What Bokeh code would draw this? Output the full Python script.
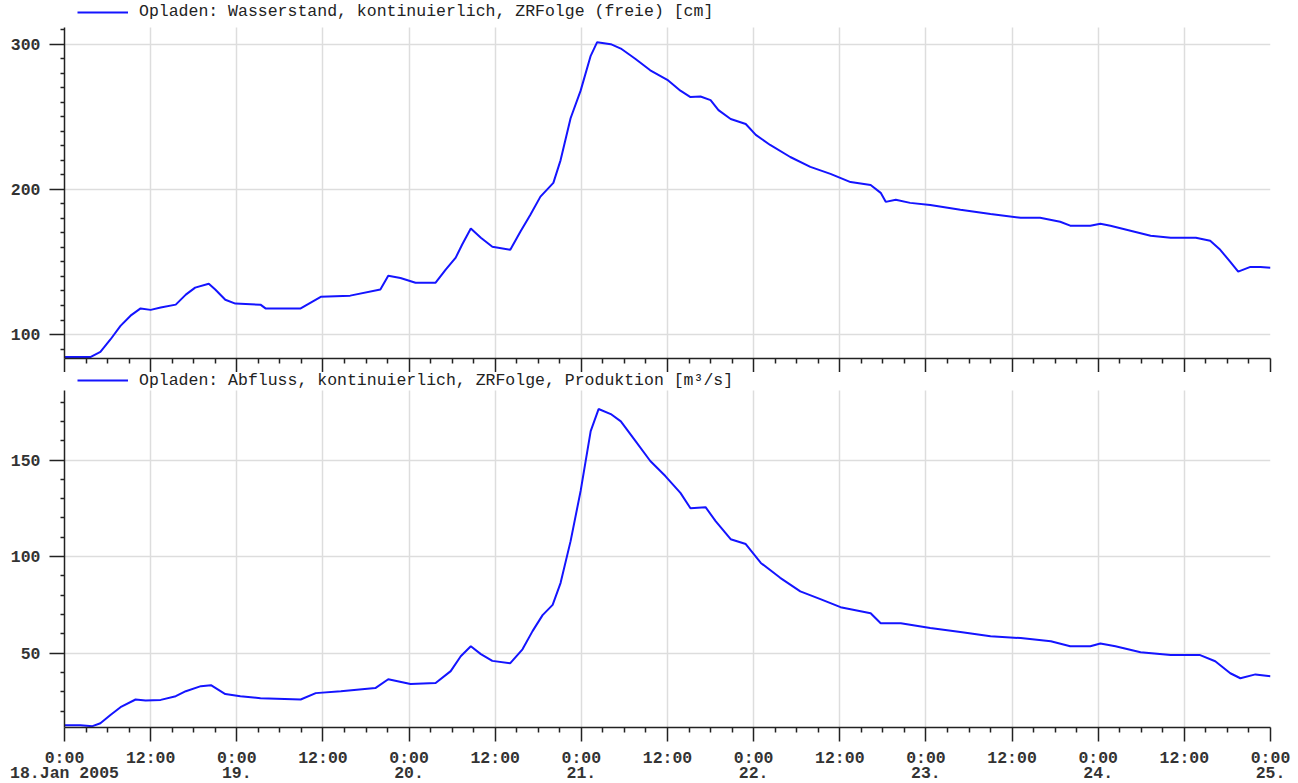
from bokeh.plotting import figure
from bokeh.models import FixedTicker, Legend, LegendItem
from bokeh.layouts import column
from bokeh.embed import file_html
from bokeh.resources import INLINE

# ---- data (hours since 18 Jan 2005 0:00) ----
level_hours = [0, 3.6, 5.0, 6.4, 7.8, 9.2, 10.6, 12.0, 13.4, 15.5, 16.9, 18.2, 20.1, 21.0, 22.4,
               23.8, 27.3, 28.0, 32.9, 34.3, 35.7, 39.8, 44.0, 45.1, 46.8, 48.9, 51.7, 53.1,
               54.5, 55.4, 56.6, 58.0, 59.6, 62.1, 63.5, 64.9, 66.3, 68.1, 69.1, 70.5, 71.9,
               73.3, 74.2, 76.1, 77.5, 79.5, 81.6, 84.1, 85.8, 87.2, 88.6, 90.0, 91.1, 92.8,
               94.9, 96.3, 98.3, 101.1, 103.9, 106.7, 109.5, 112.3, 113.7, 114.4, 115.8, 117.8,
               120.6, 124.8, 129.0, 133.2, 135.9, 138.7, 140.1, 142.9, 144.3, 145.7, 148.5,
               151.3, 154.1, 157.6, 159.6, 161.0, 162.4, 163.5, 165.2, 166.6, 168.0]
level_cm = [84.5, 84.5, 88, 96.6, 106, 113, 118, 117, 118.6, 120.6, 127.5, 132.3, 135, 131, 124,
            121.3, 120.6, 118, 118, 122, 126, 126.8, 131, 140.5, 139, 135.7, 135.7, 144.7,
            153, 162, 173, 166.7, 160.5, 158.4, 170.8, 182.5, 195, 204.5, 220, 249, 268,
            292, 301.4, 300, 297, 290, 282, 275, 268, 263.6, 264, 261.5, 254.6, 248.5,
            245, 237.5, 230.6, 222.3, 215.5, 210.7, 205, 203, 197.6, 191.4, 192.8, 190.7,
            189.3, 186, 183, 180.4, 180.4, 177.7, 175, 175, 176.3, 175, 171.5,
            168, 166.7, 166.7, 164.6, 158.4, 150, 143.3, 146.6, 146.6, 146]

flow_hours = [0, 2.2, 3.9, 5.0, 6.4, 7.8, 9.9, 11.3, 13.4, 15.5, 16.9, 19.0, 20.4, 22.4, 24.5,
              27.3, 32.9, 35.0, 38.5, 43.3, 45.1, 48.2, 51.7, 53.8, 55.2, 56.6, 58.0, 59.6,
              62.1, 63.8, 65.2, 66.6, 68.0, 69.1, 70.5, 71.9, 73.3, 74.4, 76.1, 77.5, 79.5,
              81.6, 83.7, 85.8, 87.2, 89.3, 90.7, 92.8, 94.9, 97.0, 99.7, 102.5, 105.3,
              108.1, 112.3, 113.7, 116.5, 120.6, 124.8, 129.0, 133.2, 137.4, 140.1, 142.9,
              144.3, 146.4, 149.9, 154.1, 158.2, 160.3, 162.4, 163.8, 165.9, 168.0]
flow_m3s = [12.7, 12.7, 12.2, 13.7, 18, 22, 26, 25.5, 25.8, 27.7, 30.3, 32.9, 33.4, 28.8, 27.7,
            26.7, 26, 29.3, 30.3, 31.9, 36.5, 34, 34.5, 40.7, 48.4, 53.6, 49.5, 46,
            44.8, 52, 61.4, 69.7, 75, 86.3, 108, 134, 165, 176.4, 173.8, 170, 160,
            149.5, 141.7, 133, 125, 125.6, 118.4, 109, 106.5, 96.7, 89, 82, 78,
            73.8, 70.7, 65.5, 65.5, 63, 61, 58.8, 57.8, 56.2, 53.6, 53.6,
            55, 53.6, 50.5, 49, 49, 45.8, 39.6, 37, 39, 38]

x_major = list(range(0, 169, 12))
x_minor = [h for h in range(0, 169, 3) if h % 12 != 0]
x_labels = ["0:00\n18.Jan 2005", "12:00", "0:00\n19.", "12:00", "0:00\n20.", "12:00",
            "0:00\n21.", "12:00", "0:00\n22.", "12:00", "0:00\n23.", "12:00",
            "0:00\n24.", "12:00", "0:00\n25."]

level_label = "Opladen: Wasserstand, kontinuierlich, ZRFolge (freie) [cm]"
flow_label = "Opladen: Abfluss, kontinuierlich, ZRFolge, Produktion [m³/s]"

MONO = "Liberation Mono"
LINE_COLOR = "#1414ff"
FRAME_W = 1206


def make_panel(xs, ys, label, y_lo, y_hi, yticks, yminor, plot_h, strip_h,
               legend_center, show_xlabels):
    # the frame also holds a strip above the axis for the legend
    y_top = y_hi + strip_h * (y_hi - y_lo) / plot_h
    p = figure(frame_width=FRAME_W, frame_height=plot_h + strip_h,
               x_range=(0, 168), y_range=(y_lo, y_top),
               output_backend="svg", toolbar_location=None,
               min_border_left=64, min_border_right=28, min_border_top=0,
               min_border_bottom=0)
    p.outline_line_color = None
    r = p.line(xs, ys, line_color=LINE_COLOR, line_width=2)

    p.xaxis.ticker = FixedTicker(ticks=x_major, minor_ticks=x_minor)
    p.yaxis.ticker = FixedTicker(ticks=yticks, minor_ticks=yminor)
    p.yaxis.bounds = (y_lo, y_hi)
    for ax in (p.xaxis[0], p.yaxis[0]):
        ax.axis_line_color = "#222222"
        ax.axis_line_width = 1.5
        ax.major_tick_line_color = "#222222"
        ax.major_tick_line_width = 1.5
        ax.minor_tick_line_color = "#222222"
        ax.minor_tick_line_width = 1.5
        ax.major_tick_in = 0
        ax.minor_tick_in = 0
        ax.major_label_text_font = MONO
        ax.major_label_text_font_size = "16.5px"
        ax.major_label_text_color = "#333333"
        ax.major_label_text_font_style = "bold"
    p.yaxis.major_tick_out = 15
    p.yaxis.minor_tick_out = 4
    p.yaxis.major_label_standoff = 9
    p.xaxis.major_tick_out = 14
    p.xaxis.minor_tick_out = 5
    if show_xlabels:
        p.xaxis.major_label_overrides = {k: v for k, v in zip(x_major, x_labels)}
        p.xaxis.major_label_standoff = 7
        p.xaxis.major_label_text_line_height = 0.82
    else:
        p.xaxis.major_label_overrides = {k: "" for k in x_major}
        p.xaxis.major_label_standoff = 0

    p.grid.grid_line_color = "#dddddd"
    p.grid.grid_line_width = 1.5
    xg = p.xgrid[0]
    if "cross_bounds" in xg.properties():
        xg.cross_bounds = (y_lo, y_hi)
    else:
        xg.grid_line_color = None
        p.segment(x0=x_major, y0=[y_lo] * len(x_major), x1=x_major, y1=[y_hi] * len(x_major),
                  line_color="#dddddd", line_width=1.5, level="underlay")

    item_h = 14
    total_h = plot_h + strip_h
    leg = Legend(items=[LegendItem(label=label, renderers=[r])],
                 location=(13, total_h - (legend_center - item_h / 2) - item_h),
                 orientation="horizontal", margin=0, padding=0, spacing=0,
                 border_line_color=None, background_fill_alpha=0,
                 glyph_width=51, glyph_height=item_h, label_height=item_h,
                 label_standoff=11,
                 label_text_font=MONO, label_text_font_size="16.5px",
                 label_text_color="#222222")
    p.add_layout(leg)
    return p


p1 = make_panel(level_hours, level_cm, level_label, 83.5, 311.5, [100, 200, 300],
                [h for h in range(90, 312, 10) if h % 100 != 0], 331, 27, 14, False)
p2 = make_panel(flow_hours, flow_m3s, flow_label, 11.5, 186, [50, 100, 150],
                [h for h in range(20, 186, 10) if h % 50 != 0], 337, 18, 10.5, True)

layout = column(p1, p2, spacing=0)
open("out.html", "w").write(file_html(layout, INLINE))
